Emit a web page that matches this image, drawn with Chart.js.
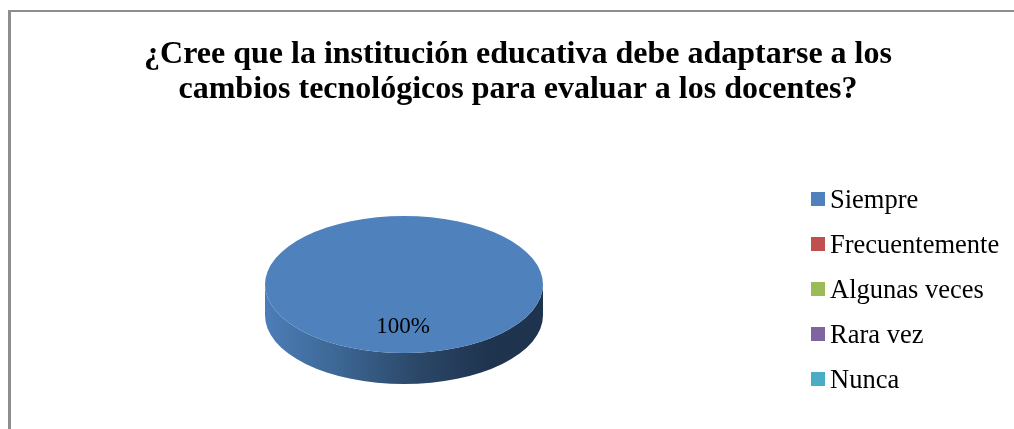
<!DOCTYPE html>
<html lang="es">
<head>
<meta charset="utf-8">
<title>Evaluación docente</title>
<script src="https://cdn.jsdelivr.net/npm/chart.js@4"></script>
<style>
  html, body { margin: 0; padding: 0; background: #fff; overflow: hidden; }
  #frame { position: absolute; left: 8px; top: 10px; width: 1006px; height: 419px; box-sizing: border-box;
           border-left: 3px solid #8e8e8e; border-top: 2px solid #8e8e8e; }
  #pieChart { position: absolute; left: 0; top: 0; }
  #legend { position: absolute; left: 811px; top: 177px; font: 26.5px "Liberation Serif", serif; color: #000; }
  .item { position: absolute; left: 0; height: 45px; line-height: 45px; white-space: nowrap; }
  .box { position: absolute; left: 0; top: 15px; width: 14px; height: 14px; }
  .txt { position: absolute; left: 19px; top: 0; }
</style>
</head>
<body>
<div id="frame"></div>
<canvas id="pieChart" width="1014" height="429"></canvas>
<div id="legend"></div>
<script>
const titleLines = ['¿Cree que la institución educativa debe adaptarse a los', 'cambios tecnológicos para evaluar a los docentes?'];
const categories = ['Siempre', 'Frecuentemente', 'Algunas veces', 'Rara vez', 'Nunca'];
const percentages = [100, 0, 0, 0, 0];
const sliceColors = ['#4f81bd', '#c0504d', '#9bbb59', '#8064a2', '#4bacc6'];

const squash = 68.5 / 139;
const depth = 31;

// tilts the pie and paints the rim, Chart.js has no 3D pie
const tiltPlugin = {
    id: 'tilt',
    afterLayout(chart) {
        // title stays centred on the whole frame, the pie only on the left part
        chart.titleBlock.left = 22;
        chart.titleBlock.right = 1014;
    },
    beforeDatasetsDraw(chart) {
        const ctx = chart.ctx;
        const arc = chart.getDatasetMeta(0).data[0];
        const rx = arc.outerRadius;
        const ry = rx * squash;
        const grad = ctx.createLinearGradient(arc.x - rx, 0, arc.x + rx, 0);
        grad.addColorStop(0, '#4c7db7');
        grad.addColorStop(0.25, '#3d6896');
        grad.addColorStop(0.55, '#2b4768');
        grad.addColorStop(0.8, '#1f344f');
        grad.addColorStop(1, '#1e334d');
        ctx.save();
        ctx.beginPath();
        ctx.ellipse(arc.x, arc.y, rx, ry, 0, Math.PI, 0, true);
        ctx.lineTo(arc.x + rx, arc.y + depth);
        ctx.ellipse(arc.x, arc.y + depth, rx, ry, 0, 0, Math.PI);
        ctx.closePath();
        ctx.fillStyle = grad;
        ctx.fill();
        ctx.restore();

        ctx.save();
        ctx.translate(0, arc.y);
        ctx.scale(1, squash);
        ctx.translate(0, -arc.y);
    },
    afterDatasetsDraw(chart) {
        const ctx = chart.ctx;
        ctx.restore();
        const arc = chart.getDatasetMeta(0).data[0];
        ctx.save();
        ctx.font = '23px "Liberation Serif", serif';
        ctx.fillStyle = '#000';
        ctx.textAlign = 'center';
        ctx.textBaseline = 'middle';
        ctx.fillText(percentages[0] + '%', arc.x - 1, arc.y + 42);
        ctx.restore();
    }
};

new Chart(document.getElementById('pieChart').getContext('2d'), {
    type: 'pie',
    data: {
        labels: categories,
        datasets: [{
            data: percentages,
            backgroundColor: sliceColors,
            borderWidth: 0,
            radius: 139
        }]
    },
    options: {
        responsive: false,
        animation: false,
        layout: { padding: { left: 0, right: 206, top: 0, bottom: 0 } },
        plugins: {
            legend: { display: false },
            tooltip: { enabled: false },
            title: {
                display: true,
                text: titleLines,
                color: '#000',
                padding: { top: 37, bottom: 32.6 },
                font: { family: '"Liberation Serif", serif', size: 32, weight: 'bold', lineHeight: 1.1 }
            }
        }
    },
    plugins: [tiltPlugin]
});

// legend is built by hand, the gap box/text is tighter than the built-in one allows
const legendEl = document.getElementById('legend');
categories.forEach(function(name, i) {
    const item = document.createElement('div');
    item.className = 'item';
    item.style.top = (i * 45) + 'px';
    item.innerHTML = '<span class="box" style="background:' + sliceColors[i] + '"></span><span class="txt">' + name + '</span>';
    legendEl.appendChild(item);
});
</script>
</body>
</html>
